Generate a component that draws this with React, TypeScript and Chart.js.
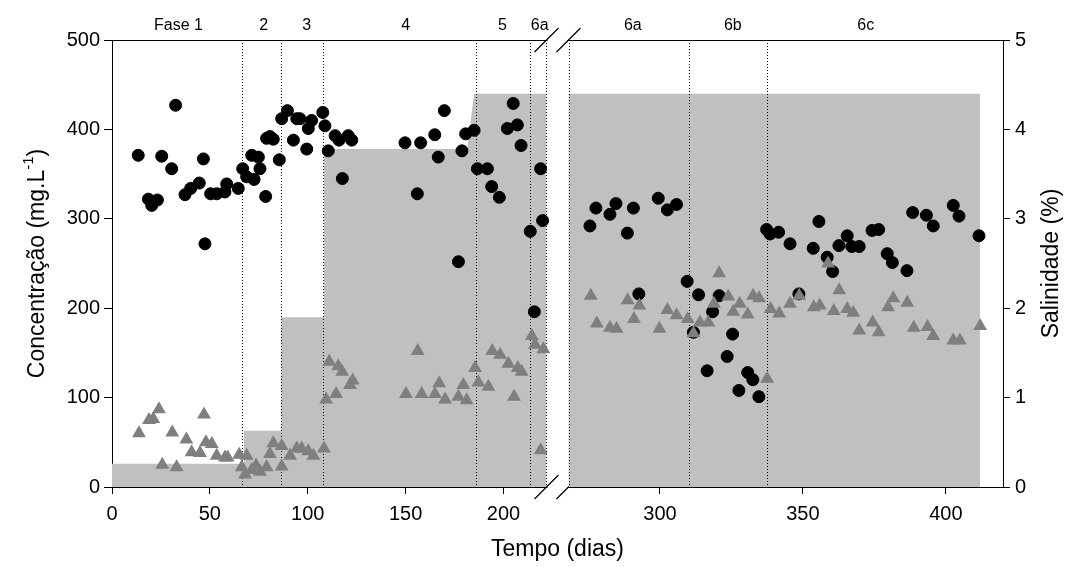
import React, { useEffect, useRef } from 'react';
import { Chart, registerables, LinearScale } from 'chart.js';

// ---------- data ----------
const SEG_LEFT = [0, 222];
const SEG_RIGHT = [268, 420];
const X_TICKS = [0, 50, 100, 150, 200, 300, 350, 400];
const PHASE_NAMES = ['Fase 1', '2', '3', '4', '5', '6a', '6a', '6b', '6c'];
const PHASE_LABEL_POS = [34, 77.5, 99.5, 150, 199.5, 218.5, 290.5, 325.5, 372];
const PHASE_BOUNDS = [66.3, 86.4, 108, 186, 213.6, 221.8, 268, 310.1, 337.4];

const SAL_LEFT_X = [0, 67.4, 67.4, 86.4, 86.4, 108.3, 108.3, 181.5, 185, 221.8];
const SAL_LEFT_Y = [0.26, 0.26, 0.63, 0.63, 1.9, 1.9, 3.78, 3.78, 4.4, 4.4];
const SAL_RIGHT_X = [268, 412];
const SAL_RIGHT_Y = [4.4, 4.4];

const CIRCLE_DAYS = [
  13.4, 18.6, 20.3, 23.2, 25.4, 30.5, 32.5, 37.3, 40.2, 44.6, 46.7, 47.5, 50.4, 53.5, 57.7, 58.6,
  64.5, 66.8, 68.8, 71.4, 72.6, 74.8, 75.6, 78.5, 79, 80.7, 82.4, 85.5, 86.7, 89.6, 92.7, 94.4,
  96, 99.5, 100.3, 102, 107.7, 108.8, 110.5, 114, 116, 117.7, 120.7, 122.5,
  149.7, 156, 157.7, 164.9, 166.7, 169.8, 177, 178.8, 180.7, 185, 186.7, 191.8, 194, 197.9,
  202, 205, 207.1, 209, 213.7, 215.8, 219, 220,
  275.5, 277.6, 282.5, 284.6, 288.6, 290.7, 292.6, 299.4, 302.6, 305.8, 309.5, 311.7, 313.5,
  316.5, 318.4, 320.7, 323.5, 325.4, 327.6, 330.7, 332.5, 334.6, 337.3, 338.5, 341.5, 345.5,
  348.6, 353.6, 355.6, 358.5, 360.4, 362.6, 365.5, 367.1, 369.7, 374.2, 376.5, 379.5, 381.3,
  386.4, 388.4, 393.2, 395.6, 402.6, 404.6, 411.6,
];
const CIRCLE_VALS = [
  371, 322, 315, 321, 370, 356, 427, 327, 334, 340, 367, 272, 328, 328, 330, 339,
  334, 356, 347, 371, 344, 369, 356, 325, 390, 392, 389, 366, 412, 421, 388, 412,
  412, 378, 401, 410, 419, 404, 376, 393, 388, 345, 393, 388,
  385, 328, 385, 394, 369, 421, 252, 376, 395, 399, 356, 356, 336, 324,
  401, 429, 405, 382, 286, 196, 356, 298,
  292, 312, 305, 317, 284, 312, 216, 323, 310, 316, 230, 173, 215,
  130, 196, 214, 146, 171, 108, 128, 120, 101, 288, 283, 285, 272,
  216, 267, 297, 257, 241, 270, 281, 269, 269, 287, 288, 261, 251,
  242, 307, 304, 292, 315, 303, 281,
];

const TRI_DAYS = [
  13.8, 18.9, 21.1, 24, 25.7, 30.8, 33, 38, 40.7, 45, 47, 48, 51, 53.5, 57.7, 59.1, 65, 66.3,
  68, 68.8, 71.4, 73.6, 75.6, 79, 80.7, 82.4, 86.7, 86.7, 91, 94.4, 96.9, 100.3, 102.9, 108.3,
  109.4, 111, 114.5, 115.6, 117.6, 121.6, 123, 150.2, 156.2, 158.2, 165, 167.2, 170.2, 177,
  179.5, 181.2, 185.5, 187.2, 192.3, 194.3, 198.3, 202.5, 205.4, 207.3, 209.3, 214.5, 216.1,
  219, 220.4,
  275.8, 277.9, 282.5, 284.8, 288.7, 290.9, 292.8, 299.8, 302.6, 305.8, 309.7, 311.7, 314,
  316.9, 318.9, 320.7, 323.9, 325.6, 327.9, 330.7, 332.6, 334.7, 337.5, 338.7, 341.7, 345.5,
  348.7, 353.8, 355.9, 358.8, 360.8, 362.7, 365.5, 367.6, 369.7, 374.4, 376.5, 379.8, 381.6,
  386.5, 388.8, 393.6, 395.6, 402.6, 404.9, 412,
];
const TRI_VALS = [
  60, 75, 76, 87, 25, 61, 22, 53, 39, 38, 81, 50, 48, 35, 33, 33, 36, 22,
  14, 35, 19, 24, 17, 22, 37, 49, 46, 23, 35, 43, 43, 40, 35, 43,
  98, 140, 104, 135, 129, 114, 119, 104, 152, 104, 104, 116, 98, 101,
  114, 97, 133, 117, 112, 152, 148, 138, 101, 133, 129, 169, 159,
  41, 154,
  214, 183, 178, 177, 209, 188, 203, 177, 198, 192, 188, 172, 184,
  184, 205, 239, 213, 196, 205, 193, 214, 211, 121, 199, 194, 205,
  214, 201, 203, 250, 197, 220, 199, 195, 175, 184, 173, 201, 211,
  206, 178, 179, 169, 164, 164, 180,
];

const Y_LEFT_MAX = 500;
const Y_RIGHT_MAX = 5;

// ---------- broken axis scale ----------
class BrokenAxis extends LinearScale {
  static id = 'brokenAxis';
  static defaults = {};

  buildTicks() {
    const vals: number[] = (this.options as any).tickValues || [];
    return vals.map((v) => ({ value: v }));
  }

  _segs() {
    const o: any = this.options;
    const gap = o.gapPx;
    const segW = (this.width - gap) / 2;
    return { a0: o.segA[0], a1: o.segA[1], b0: o.segB[0], b1: o.segB[1], gap, segW };
  }

  getPixelForValue(value: number) {
    const { a0, a1, b0, b1, gap, segW } = this._segs();
    const left = this.left;
    if (value <= a1) return left + ((value - a0) / (a1 - a0)) * segW;
    if (value >= b0) return left + segW + gap + ((value - b0) / (b1 - b0)) * segW;
    return left + segW + ((value - a1) / (b0 - a1)) * gap;
  }

  getValueForPixel(pixel: number) {
    const { a0, a1, b0, b1, gap, segW } = this._segs();
    const p = pixel - this.left;
    if (p <= segW) return a0 + (p / segW) * (a1 - a0);
    if (p >= segW + gap) return b0 + ((p - segW - gap) / segW) * (b1 - b0);
    return a1 + ((p - segW) / gap) * (b0 - a1);
  }
}

Chart.register(...registerables, BrokenAxis);

const FONT = '"Liberation Sans", Arial, Helvetica, sans-serif';

const decorPlugin = {
  id: 'decor',
  beforeDatasetsDraw(chart: any) {
    const { ctx, chartArea: ca, scales } = chart;
    const x = scales.x;
    const g0 = x.getPixelForValue(SEG_LEFT[1]);
    const g1 = x.getPixelForValue(SEG_RIGHT[0]);
    ctx.save();
    ctx.fillStyle = '#ffffff';
    ctx.fillRect(g0 + 1, ca.top - 2, g1 - g0 - 2, 4);
    ctx.fillRect(g0 + 1, ca.bottom - 2, g1 - g0 - 2, 4);
    ctx.strokeStyle = '#000';
    ctx.lineWidth = 1.2;
    for (const gx of [g0, g1]) {
      for (const gy of [ca.top, ca.bottom]) {
        ctx.beginPath();
        ctx.moveTo(gx - 12, gy + 12);
        ctx.lineTo(gx + 12, gy - 12);
        ctx.stroke();
      }
    }
    ctx.restore();
  },
  beforeDatasetDraw(chart: any, args: any) {
    if (args.index !== 2) return;
    const { ctx, chartArea: ca, scales } = chart;
    ctx.save();
    ctx.strokeStyle = '#000';
    ctx.lineWidth = 1;
    ctx.setLineDash([1, 2]);
    for (const b of PHASE_BOUNDS) {
      const px = Math.round(scales.x.getPixelForValue(b)) + 0.5;
      ctx.beginPath();
      ctx.moveTo(px, ca.top);
      ctx.lineTo(px, ca.bottom);
      ctx.stroke();
    }
    ctx.restore();
  },
  afterDraw(chart: any) {
    const { ctx, chartArea: ca } = chart;
    const midY = (ca.top + ca.bottom) / 2;
    ctx.save();
    ctx.fillStyle = '#000';
    ctx.textBaseline = 'middle';
    // left title with superscript
    const mainFont = `23px ${FONT}`;
    const supFont = `15px ${FONT}`;
    ctx.font = mainFont;
    const t1 = 'Concentração (mg.L';
    const t3 = ')';
    const w1 = ctx.measureText(t1).width;
    const w3 = ctx.measureText(t3).width;
    ctx.font = supFont;
    const t2 = '-1';
    const w2 = ctx.measureText(t2).width;
    const total = w1 + w2 + w3;
    ctx.save();
    ctx.translate(38, midY);
    ctx.rotate(-Math.PI / 2);
    ctx.textAlign = 'left';
    let xx = -total / 2;
    ctx.font = mainFont;
    ctx.fillText(t1, xx, 0);
    xx += w1;
    ctx.font = supFont;
    ctx.fillText(t2, xx, -9);
    xx += w2;
    ctx.font = mainFont;
    ctx.fillText(t3, xx, 0);
    ctx.restore();
    // right title
    ctx.save();
    ctx.translate(1052, midY);
    ctx.rotate(-Math.PI / 2);
    ctx.textAlign = 'center';
    ctx.font = mainFont;
    ctx.fillText('Salinidade (%)', 0, 0);
    ctx.restore();
    // bottom title
    ctx.textAlign = 'center';
    ctx.font = mainFont;
    ctx.fillText('Tempo (dias)', (ca.left + ca.right) / 2, 550);
    ctx.restore();
  },
};

export default function App() {
  const ref = useRef<HTMLCanvasElement | null>(null);

  useEffect(() => {
    if (!ref.current) return;
    Chart.defaults.font.family = FONT;
    Chart.defaults.color = '#000';

    const circles = CIRCLE_DAYS.map((d, i) => ({ x: d, y: CIRCLE_VALS[i] }));
    const tris = TRI_DAYS.map((d, i) => ({ x: d, y: TRI_VALS[i] }));
    const salLeft = SAL_LEFT_X.map((d, i) => ({ x: d, y: SAL_LEFT_Y[i] }));
    const salRight = SAL_RIGHT_X.map((d, i) => ({ x: d, y: SAL_RIGHT_Y[i] }));

    const brokenCommon = {
      type: 'brokenAxis',
      min: 0,
      max: SEG_RIGHT[1],
      segA: SEG_LEFT,
      segB: SEG_RIGHT,
      gapPx: 22,
    };

    const chart = new Chart(ref.current, {
      type: 'scatter',
      data: {
        datasets: [
          {
            type: 'line',
            data: salLeft,
            xAxisID: 'x',
            yAxisID: 'y2',
            fill: 'origin',
            backgroundColor: '#c0c0c0',
            borderColor: 'rgba(0,0,0,0)',
            borderWidth: 1,
            pointRadius: 0,
            tension: 0,
            order: 10,
          },
          {
            type: 'line',
            data: salRight,
            xAxisID: 'x',
            yAxisID: 'y2',
            fill: 'origin',
            backgroundColor: '#c0c0c0',
            borderColor: 'rgba(0,0,0,0)',
            borderWidth: 1,
            pointRadius: 0,
            tension: 0,
            order: 10,
          },
          {
            data: circles,
            xAxisID: 'x',
            yAxisID: 'y',
            pointStyle: 'circle',
            pointRadius: 6,
            borderWidth: 1,
            backgroundColor: '#000',
            borderColor: '#000',
            order: 1,
          },
          {
            data: tris,
            xAxisID: 'x',
            yAxisID: 'y',
            pointStyle: 'triangle',
            pointRadius: 8,
            borderWidth: 0,
            backgroundColor: '#7f7f7f',
            borderColor: '#7f7f7f',
            order: 0,
          },
        ],
      } as any,
      options: {
        responsive: false,
        animation: false,
        events: [],
        layout: { padding: 0 },
        plugins: { legend: { display: false }, tooltip: { enabled: false } },
        scales: {
          x: {
            ...brokenCommon,
            position: 'bottom',
            tickValues: X_TICKS,
            afterFit: (s: any) => { s.height = 80; },
            grid: { display: true, drawOnChartArea: false, drawTicks: true, tickLength: 7, color: '#000', lineWidth: 1 },
            border: { display: true, color: '#000', width: 1 },
            ticks: {
              autoSkip: false,
              maxRotation: 0,
              minRotation: 0,
              padding: 8,
              font: { size: 20 },
              color: '#000',
              callback: (v: any) => String(v),
            },
          },
          x2: {
            ...brokenCommon,
            position: 'top',
            tickValues: PHASE_LABEL_POS,
            afterFit: (s: any) => { s.height = 40; },
            grid: { display: false, drawTicks: false },
            border: { display: true, color: '#000', width: 1 },
            ticks: {
              autoSkip: false,
              maxRotation: 0,
              minRotation: 0,
              padding: 5,
              font: { size: 16 },
              color: '#000',
              callback: (_v: any, i: number) => PHASE_NAMES[i],
            },
          },
          y: {
            type: 'linear',
            position: 'left',
            min: 0,
            max: Y_LEFT_MAX,
            afterFit: (s: any) => { s.width = 112; },
            grid: { display: true, drawOnChartArea: false, drawTicks: true, tickLength: 8, color: '#000', lineWidth: 1 },
            border: { display: true, color: '#000', width: 1 },
            ticks: { stepSize: 100, padding: 4, font: { size: 20 }, color: '#000' },
          },
          y2: {
            type: 'linear',
            position: 'right',
            min: 0,
            max: Y_RIGHT_MAX,
            afterFit: (s: any) => { s.width = 78; },
            grid: { display: true, drawOnChartArea: false, drawTicks: true, tickLength: 7, color: '#000', lineWidth: 1 },
            border: { display: true, color: '#000', width: 1 },
            ticks: { stepSize: 1, padding: 5, font: { size: 20 }, color: '#000' },
          },
        },
      } as any,
      plugins: [decorPlugin],
    });

    return () => chart.destroy();
  }, []);

  return (
    <div style={{ position: 'fixed', left: 0, top: 0, width: 1081, height: 567, background: '#fff' }}>
      <canvas ref={ref} width={1081} height={567} style={{ display: 'block' }} />
    </div>
  );
}
